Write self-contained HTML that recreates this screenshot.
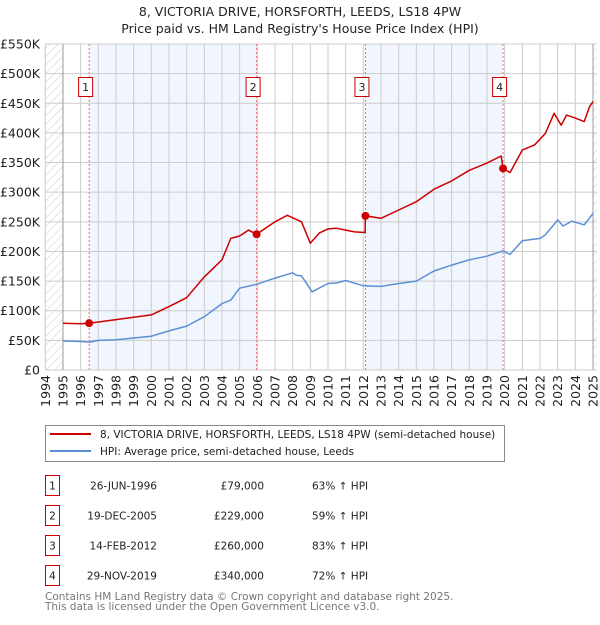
<!DOCTYPE html>
<html><head><meta charset="utf-8"><style>
body{margin:0;background:#fff;font-family:"Liberation Sans","DejaVu Sans",sans-serif;}
svg text{font-family:"DejaVu Sans","Liberation Sans",sans-serif;}
</style></head><body>
<svg id="c" width="600" height="620" xmlns="http://www.w3.org/2000/svg">
<defs><pattern id="hatch" width="6" height="6" patternUnits="userSpaceOnUse" patternTransform="rotate(45)"><line x1="0" y1="0" x2="0" y2="6" stroke="#ccc" stroke-width="1"/></pattern></defs>
<text x="300" y="16" text-anchor="middle" font-size="12.5" fill="#222">8, VICTORIA DRIVE, HORSFORTH, LEEDS, LS18 4PW</text>
<text x="300" y="33" text-anchor="middle" font-size="12.5" fill="#222">Price paid vs. HM Land Registry's House Price Index (HPI)</text>
<g id="plot"></g>
<g>
<rect x="45.5" y="425.5" width="459" height="36" fill="#fff" stroke="#888"/>
<line x1="50" y1="434" x2="91" y2="434" stroke="#cc0000" stroke-width="2"/>
<text x="100" y="438" font-size="10.5" fill="#222">8, VICTORIA DRIVE, HORSFORTH, LEEDS, LS18 4PW (semi-detached house)</text>
<line x1="50" y1="451" x2="91" y2="451" stroke="#5b8fd4" stroke-width="2"/>
<text x="100" y="455" font-size="10.5" fill="#222">HPI: Average price, semi-detached house, Leeds</text>
</g>
<g id="table" font-size="10.5" fill="#222"></g>
<text x="45" y="600" font-size="10.5" fill="#777">Contains HM Land Registry data © Crown copyright and database right 2025.</text>
<text x="45" y="610" font-size="10.5" fill="#777">This data is licensed under the Open Government Licence v3.0.</text>
</svg>
<script>
const hpiYears=[1995,1996,1996.5,1997,1998,1999,2000,2001,2002,2003,2004,2004.5,2005,2006,2007,2008,2008.2,2008.5,2009.1,2010,2010.5,2011,2012,2013,2014,2015,2016,2017,2018,2019,2019.9,2020.3,2021,2022,2022.3,2023,2023.3,2023.8,2024.5,2025];
const hpiValues=[49,48,47,50,51,54,57,66,74,90,112,118,138,145,155,164,160,159,132,146,147,151,142,141,146,150,167,177,186,192,201,195,218,222,228,253,243,251,245,264];
const redYears=[1995,1996,1996.48,1997,1998,1999,2000,2001,2002,2003,2004,2004.5,2005,2005.5,2005.96,2007,2007.7,2008.2,2008.5,2009,2009.5,2010,2010.5,2011,2011.5,2012.1,2012.12,2013,2014,2015,2016,2017,2018,2019,2019.8,2019.91,2020.3,2021,2021.7,2022.3,2022.8,2023.2,2023.5,2024,2024.5,2024.8,2025];
const redValues=[79,78,79,81,85,89,93,107,122,157,186,222,226,236,229,250,261,254,250,214,231,238,239,236,233,232,260,256,270,284,305,319,337,349,361,340,333,371,380,399,433,413,430,425,419,444,453];
const saleYears=[1996.48,2005.96,2012.12,2019.91];
const saleValues=[79,229,260,340];
const saleLabels=["1","2","3","4"];
const saleDates=["26-JUN-1996","19-DEC-2005","14-FEB-2012","29-NOV-2019"];
const salePrices=["£79,000","£229,000","£260,000","£340,000"];
const saleHpi=["63% ↑ HPI","59% ↑ HPI","83% ↑ HPI","72% ↑ HPI"];
const yTicks=[0,50,100,150,200,250,300,350,400,450,500,550];
const yTickLabels=["£0","£50K","£100K","£150K","£200K","£250K","£300K","£350K","£400K","£450K","£500K","£550K"];
const xTicks=[1994,1995,1996,1997,1998,1999,2000,2001,2002,2003,2004,2005,2006,2007,2008,2009,2010,2011,2012,2013,2014,2015,2016,2017,2018,2019,2020,2021,2022,2023,2024,2025];

const NS="http://www.w3.org/2000/svg";
const X0=45.3,X1=593,Y0=370,Y1=44;
function xs(t){return X0+(t-1994)*(X1-X0)/31;}
function ys(v){return Y0-(v)*(Y0-Y1)/550;}
const g=document.getElementById('plot');
function mk(tag,attrs,parent){const e=document.createElementNS(NS,tag);for(const k in attrs)e.setAttribute(k,attrs[k]);(parent||g).appendChild(e);return e;}
let e=mk('rect',{x:X0,y:Y1,width:597-X0,height:Y0-Y1,fill:'#fff'});


e=mk('rect',{x:X0,y:Y1,width:xs(1995)-X0,height:Y0-Y1,fill:'url(#hatch)'});


e=mk('rect',{x:xs(2025),y:Y1,width:597-xs(2025),height:Y0-Y1,fill:'url(#hatch)'});


for(let i=0;i<saleYears.length;i+=2){
  e=mk('rect',{x:xs(saleYears[i]),y:Y1,width:xs(saleYears[i+1])-xs(saleYears[i]),height:Y0-Y1,fill:'#eef3fc',opacity:0.8});
  
  
}
yTicks.forEach((v,i)=>{
  e=mk('line',{x1:X0,x2:597,y1:ys(v),y2:ys(v),stroke:'#ccc','stroke-width':1});
  
  
  e=mk('text',{x:40,y:ys(v)+4.5,'text-anchor':'end','font-size':12.5,fill:'#222'});
  e.textContent=yTickLabels[i];
  
  
});
xTicks.forEach(t=>{
  e=mk('line',{x1:xs(t),x2:xs(t),y1:Y1,y2:Y0,stroke:'#ccc','stroke-width':1});
  
  
  e=mk('text',{x:0,y:0,'text-anchor':'end','font-size':12.5,fill:'#222',transform:`translate(${xs(t)+4.5},375) rotate(-90)`});
  e.textContent=t;
  
  
});
e=mk('line',{x1:xs(1995),x2:xs(1995),y1:Y1,y2:Y0,stroke:'#999'});


e=mk('line',{x1:xs(2025),x2:xs(2025),y1:Y1,y2:Y0,stroke:'#999'});


saleYears.forEach((t,i)=>{
  e=mk('line',{x1:xs(t),x2:xs(t),y1:Y1,y2:Y0,stroke:'#f07070','stroke-width':1,'stroke-dasharray':'2,2'});
  
  
  e=mk('rect',{x:xs(t)-10.5,y:77.5,width:14,height:19,fill:'#fff',stroke:'#cc0000'});
  
  
  e=mk('text',{x:xs(t)-3.5,y:91,'text-anchor':'middle','font-size':11,fill:'#222'});
  e.textContent=saleLabels[i];
  
  
});
function line(xa,va,color,name){
  const d=xa.map((t,i)=>(i?'L':'M')+xs(t).toFixed(1)+','+ys(va[i]).toFixed(1)).join('');
  const p=mk('path',{d:d,fill:'none',stroke:color,'stroke-width':1.5,'stroke-linejoin':'round'});
  
  
}
line(hpiYears,hpiValues,'#5b8fd4','hpi-line');
line(redYears,redValues,'#cc0000','property-price-line');
saleYears.forEach((t,i)=>{
  e=mk('circle',{cx:xs(t),cy:ys(saleValues[i]),r:4,fill:'#cc0000'});
  
  
});
const tb=document.getElementById('table');
saleLabels.forEach((l,i)=>{
  const y=483+i*30;
  e=mk('rect',{x:45.5,y:y-7.5,width:14,height:20,fill:'#fff',stroke:'#cc0000'},tb);
  
  
  const cells=[[52.5,'middle',l],[157,'end',saleDates[i]],[264,'end',salePrices[i]],[312,'start',saleHpi[i]]];
  cells.forEach((c,j)=>{
    e=mk('text',{x:c[0],y:y+6.5,'text-anchor':c[1]},tb);
    e.textContent=c[2];
    
    
  });
});
</script>
</body></html>
